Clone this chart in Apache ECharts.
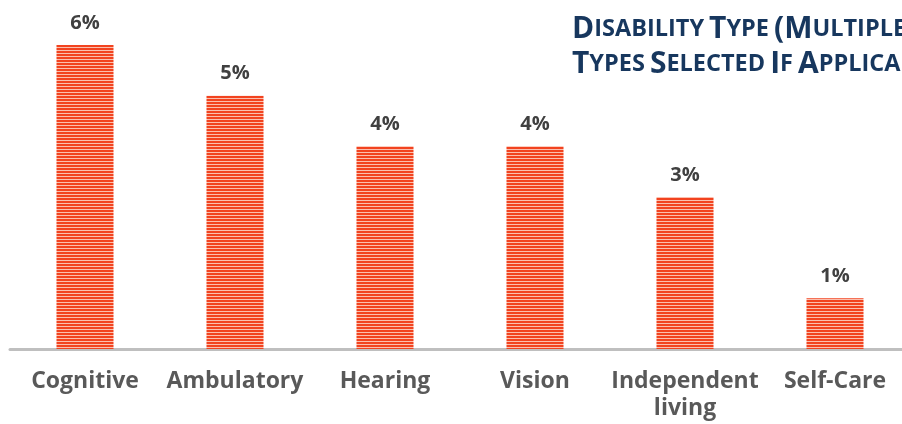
<!DOCTYPE html>
<html>
<head>
<meta charset="utf-8">
<script src="https://cdn.jsdelivr.net/npm/echarts@6/dist/echarts.min.js"></script>
<style>
  html, body { margin: 0; padding: 0; background: #fff; }
  #chart { width: 902px; height: 424px; }
</style>
</head>
<body>
<div id="chart"></div>
<script>
const categories = ['Cognitive', 'Ambulatory', 'Hearing', 'Vision', 'Independent\nliving', 'Self-Care']
const values = [6, 5, 4, 4, 3, 1]

// striped fill for the bars
const makeStripes = () => {
  const c = document.createElement('canvas')
  c.width = 4
  c.height = 3
  const ctx = c.getContext('2d')
  ctx.fillStyle = '#F2431F'
  ctx.fillRect(0, 0, 4, 2)
  ctx.fillStyle = '#FBBFAE'
  ctx.fillRect(0, 2, 4, 1)
  return c
}

const chart = echarts.init(document.getElementById('chart'))

const font = '"Open Sans", Lato, sans-serif'

chart.setOption({
  animation: false,
  title: {
    left: 567,
    top: 7,
    text: '{b|D}{s|ISABILITY} {b|T}{s|YPE} {b|(M}{s|ULTIPLE}\n{b|T}{s|YPES} {b|S}{s|ELECTED} {b|I}{s|F} {b|A}{s|PPLICABLE}{b|)}',
    textStyle: {
      rich: {
        b: { fontFamily: font, fontWeight: 'bold', fontSize: 30, color: '#17375E', lineHeight: 35 },
        s: { fontFamily: font, fontWeight: 'bold', fontSize: 23.5, color: '#17375E', lineHeight: 35 }
      }
    }
  },
  grid: { left: 10, top: 45, width: 900, height: 304, outerBoundsMode: 'none' },
  xAxis: {
    type: 'category',
    data: categories,
    axisLine: { lineStyle: { color: '#BFBFBF', width: 3 } },
    axisTick: { show: false },
    axisLabel: {
      interval: 0,
      margin: 19,
      fontFamily: font,
      fontWeight: 'bold',
      fontSize: 23,
      lineHeight: 27,
      color: '#595959'
    }
  },
  yAxis: {
    type: 'value',
    min: 0,
    max: 6,
    show: false
  },
  series: [{
    type: 'bar',
    data: values,
    barWidth: 57,
    itemStyle: { color: { image: makeStripes(), repeat: 'repeat' } },
    label: {
      show: true,
      position: 'top',
      distance: 12,
      formatter: '{c}%',
      fontFamily: font,
      fontWeight: 'bold',
      fontSize: 20,
      color: '#404040'
    }
  }]
})
</script>
</body>
</html>
